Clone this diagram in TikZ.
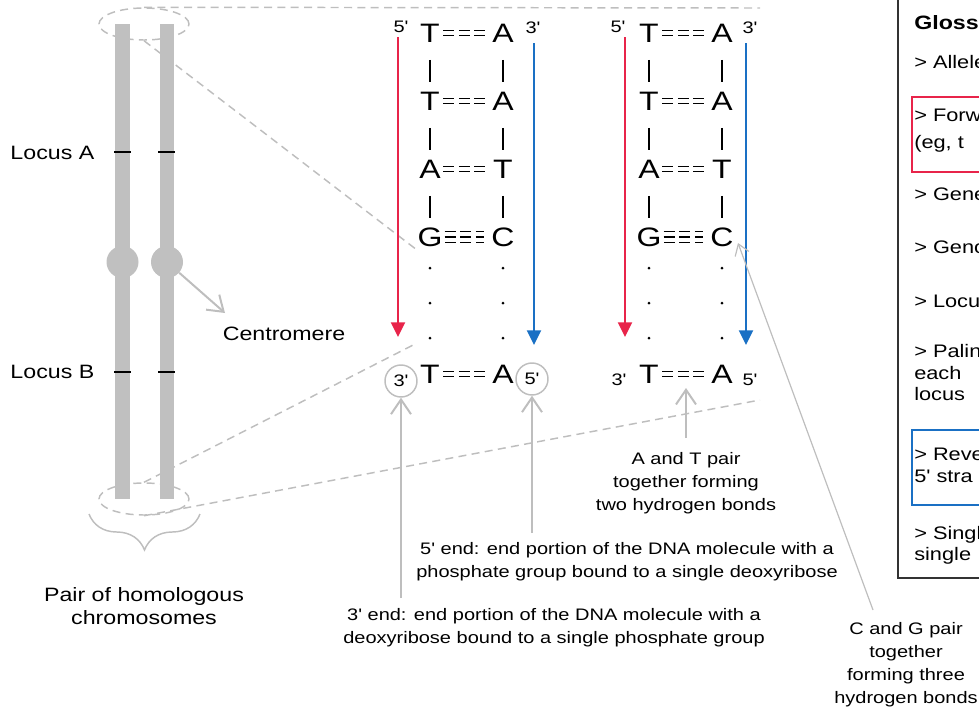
\documentclass[tikz,border=0pt]{standalone}
\usepackage{fontspec}
\setmainfont{Liberation Sans}[FakeStretch=1.2, Ligatures=TeXOff]
\usetikzlibrary{arrows.meta, shapes.geometric, decorations.pathreplacing}

\definecolor{strandred}{HTML}{E8244A}
\definecolor{strandblue}{HTML}{1A70C4}
\definecolor{chromgray}{HTML}{C0C0C0}
\definecolor{notegray}{HTML}{BEBEBE}
\definecolor{boxdark}{HTML}{333333}

\begin{document}
\begin{tikzpicture}[x=0.75pt, y=-0.75pt,
  nucleo/.style={inner sep=0pt, minimum width=16.5pt, font=\fontsize{20}{24}\selectfont},
  prime/.style={inner sep=0pt, font=\fontsize{12.5}{15}\selectfont},
  endring/.style={prime, circle, draw=notegray, line width=1.1pt, minimum size=24pt},
  note/.style={align=center, font=\fontsize{12.5}{17.25}\selectfont},
  bignote/.style={align=center, font=\fontsize{14.5}{17.25}\selectfont},
  gloss/.style={anchor=base west, inner sep=0pt, font=\fontsize{13.6}{16}\selectfont},
  backbone/.style={line width=1.1pt, shorten <=13.1pt, shorten >=7.1pt},
  hbond/.style={line width=1.1pt, dash pattern=on 8.25pt off 3.4pt, shorten <=1.5pt, shorten >=5.25pt},
  hbond2/.style={hbond, double, double distance=2.6pt},
  hbond3/.style={hbond, double, double distance=7.1pt},
  gapdots/.style={line width=2.3pt, line cap=round, dash pattern=on 0pt off 26.25pt, shorten <=16pt, shorten >=18.4pt},
  fwdstrand/.style={strandred, line width=1.5pt, -{Triangle[width=10.5pt, length=11pt]}},
  revstrand/.style={strandblue, line width=1.5pt, -{Triangle[width=10.5pt, length=11pt]}},
  callout/.style={notegray, line width=1.5pt, -{Straight Barb[width=15pt, length=11pt]}},
  thincallout/.style={notegray, line width=0.9pt, -{Straight Barb[width=11pt, length=8pt]}},
  zoomline/.style={notegray, line width=1.1pt, dash pattern=on 6pt off 4pt},
  zoomring/.style={zoomline, draw, ellipse, minimum width=67.5pt, minimum height=24pt, inner sep=0pt},
  centromere/.style={circle, fill=chromgray, minimum size=24pt, inner sep=0pt},
  locustick/.style={line width=1.1pt}]

  \useasboundingbox (0,0) rectangle (979,711);
  \clip (0,0) rectangle (979,711);

  % zoom frame from the chromosome ends to the ladders
  \node[zoomring] (topring) at (144,24) {};
  \node[zoomring] (botring) at (144,499) {};
  \coordinate (zoomtr) at (760,8);
  \coordinate (zoomtl) at (417,250);
  \coordinate (zoombl) at (417,343);
  \coordinate (zoombr) at (760,400);
  \draw[zoomline] (topring.north) -- (zoomtr);
  \draw[zoomline] (topring.south) -- (zoomtl);
  \draw[zoomline] (botring.north) -- (zoombl);
  \draw[zoomline] (botring.south) -- (zoombr);

  % homologous pair
  \fill[chromgray] (115,24) rectangle (129.5,499);
  \fill[chromgray] (159.5,24) rectangle (173.5,499);
  \node[centromere] (cen1) at (122.5,262) {};
  \node[centromere] (cen2) at (167,262) {};
  \draw[locustick] (114,152) -- (131,152);
  \draw[locustick] (158,152) -- (175,152);
  \draw[locustick] (114,372) -- (131,372);
  \draw[locustick] (158,372) -- (175,372);
  \node[bignote, anchor=east] (locA) at (99,153) {Locus A};
  \node[bignote, anchor=east] (locB) at (99,372) {Locus B};
  \node[bignote] (centlabel) at (284,334) {Centromere};
  \coordinate (centtip) at (225,313);
  \draw[callout] (cen2) -- (centtip);
  \draw[notegray, line width=1.1pt, decorate, decoration={brace, amplitude=27pt}] (200,514) -- (89,514);
  \node[bignote] (pairlabel) at (144,606) {Pair of homologous\\chromosomes};

  % first ladder
  \node[prime] (p11) at (401,27) {5'};
  \node[prime] (q11) at (533,28) {3'};
  \node[nucleo] (s11) at (430,33) {T};
  \node[nucleo] (t11) at (503,33) {A};
  \node[nucleo] (s12) at (430,101) {T};
  \node[nucleo] (t12) at (503,101) {A};
  \node[nucleo] (s13) at (430,169) {A};
  \node[nucleo] (t13) at (503,169) {T};
  \node[nucleo] (s14) at (430,237) {G};
  \node[nucleo] (t14) at (503,237) {C};
  \node[nucleo] (s15) at (430,374) {T};
  \node[nucleo] (t15) at (503,374) {A};
  \node[endring] (r3) at (401,381) {3'};
  \node[endring] (r5) at (532,379) {5'};
  \draw[backbone] (s11) -- (s12);
  \draw[backbone] (s12) -- (s13);
  \draw[backbone] (s13) -- (s14);
  \draw[backbone] (t11) -- (t12);
  \draw[backbone] (t12) -- (t13);
  \draw[backbone] (t13) -- (t14);
  \draw[gapdots] (s14) -- (s15);
  \draw[gapdots] (t14) -- (t15);
  \draw[hbond2] (s11) -- (t11);
  \draw[hbond2] (s12) -- (t12);
  \draw[hbond2] (s13) -- (t13);
  \draw[hbond3] (s14) -- (t14);
  \draw[hbond] (s14) -- (t14);
  \draw[hbond2] (s15) -- (t15);
  \coordinate (f1a) at (398,37);
  \coordinate (f1b) at (398,337);
  \coordinate (v1a) at (534,43);
  \coordinate (v1b) at (534,345);
  \draw[fwdstrand] (f1a) -- (f1b);
  \draw[revstrand] (v1a) -- (v1b);

  % second ladder
  \node[prime] (p21) at (618,27) {5'};
  \node[prime] (q21) at (750,28) {3'};
  \node[nucleo] (s21) at (649,33) {T};
  \node[nucleo] (t21) at (722,33) {A};
  \node[nucleo] (s22) at (649,101) {T};
  \node[nucleo] (t22) at (722,101) {A};
  \node[nucleo] (s23) at (649,169) {A};
  \node[nucleo] (t23) at (722,169) {T};
  \node[nucleo] (s24) at (649,237) {G};
  \node[nucleo] (t24) at (722,237) {C};
  \node[nucleo] (s25) at (649,374) {T};
  \node[nucleo] (t25) at (722,374) {A};
  \node[prime] (p25) at (619,380) {3'};
  \node[prime] (q25) at (750,380) {5'};
  \draw[backbone] (s21) -- (s22);
  \draw[backbone] (s22) -- (s23);
  \draw[backbone] (s23) -- (s24);
  \draw[backbone] (t21) -- (t22);
  \draw[backbone] (t22) -- (t23);
  \draw[backbone] (t23) -- (t24);
  \draw[gapdots] (s24) -- (s25);
  \draw[gapdots] (t24) -- (t25);
  \draw[hbond2] (s21) -- (t21);
  \draw[hbond2] (s22) -- (t22);
  \draw[hbond2] (s23) -- (t23);
  \draw[hbond3] (s24) -- (t24);
  \draw[hbond] (s24) -- (t24);
  \draw[hbond2] (s25) -- (t25);
  \coordinate (f2a) at (625,37);
  \coordinate (f2b) at (625,337);
  \coordinate (v2a) at (746,43);
  \coordinate (v2b) at (746,345);
  \draw[fwdstrand] (f2a) -- (f2b);
  \draw[revstrand] (v2a) -- (v2b);

  % notes
  \node[note] (atnote) at (686,483) {A and T pair\\together forming\\two hydrogen bonds};
  \coordinate (attail) at (686,438);
  \coordinate (attip) at (686,388);
  \draw[callout] (attail) -- (attip);
  \node[note] (end5note) at (627,562) {5' end: end portion of the DNA molecule with a\\phosphate group bound to a single deoxyribose};
  \coordinate (end5tail) at (532,533);
  \draw[callout] (end5tail) -- (r5);
  \node[note] (end3note) at (554,628) {3' end: end portion of the DNA molecule with a\\deoxyribose bound to a single phosphate group};
  \coordinate (end3tail) at (401,598);
  \draw[callout] (end3tail) -- (r3);
  \node[note] (cgnote) at (906,665) {C and G pair\\together\\forming three\\hydrogen bonds};
  \coordinate (cgtail) at (873,610);
  \coordinate (cgtip) at (738,243);
  \draw[thincallout] (cgtail) -- (cgtip);

  % glossary
  \draw[boxdark, line width=1.5pt] (898,-10) rectangle (1020,578);
  \draw[strandred, line width=1.5pt] (912,97) rectangle (1020,172);
  \draw[strandblue, line width=1.5pt] (912,430) rectangle (1020,505);
  \node[gloss, font=\fontsize{14.5}{16}\selectfont\bfseries] (gtitle) at (914,29) {Glossa};
  \node[gloss] (g1) at (914,68) {> Allele};
  \node[gloss] (g2) at (914,121) {> Forwa};
  \node[gloss] (g3) at (914,148) {(eg, t};
  \node[gloss] (g4) at (914,200) {> Gene};
  \node[gloss] (g5) at (914,253) {> Geno};
  \node[gloss] (g6) at (914,307) {> Locus};
  \node[gloss] (g7) at (914,357) {> Palind};
  \node[gloss] (g8) at (914,379) {each};
  \node[gloss] (g9) at (914,400) {locus};
  \node[gloss] (g10) at (914,460) {> Rever};
  \node[gloss] (g11) at (914,482) {5' stra};
  \node[gloss] (g12) at (914,539) {> Single};
  \node[gloss] (g13) at (914,560) {single};

\end{tikzpicture}
\end{document}
